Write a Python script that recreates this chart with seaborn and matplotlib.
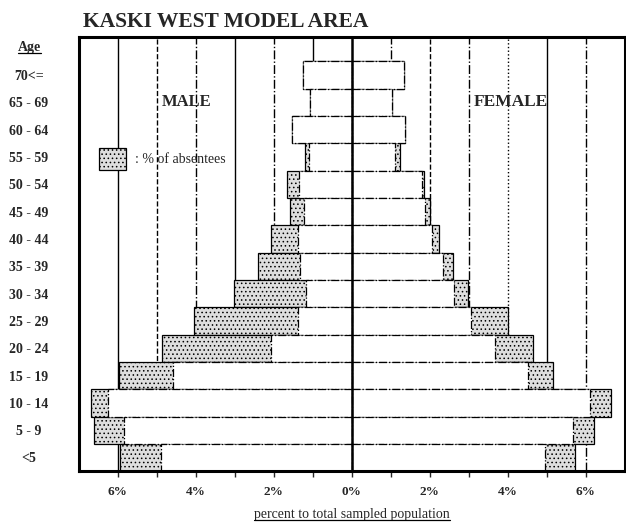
import numpy as np
import pandas as pd
import matplotlib
matplotlib.use("Agg")
import matplotlib.pyplot as plt
import matplotlib.patches as mpatches
from matplotlib.lines import Line2D
import seaborn as sns

# --- дані (% від усієї вибірки) ---
ages = ["70<=", "65 - 69", "60 - 64", "55 - 59", "50 - 54", "45 - 49", "40 - 44",
        "35 - 39", "30 - 34", "25 - 29", "20 - 24", "15 - 19", "10 - 14", "5 - 9", "<5"]
male_present = [1.26, 1.08, 1.54, 1.10, 1.36, 1.23, 1.38, 1.33, 1.18, 1.38, 2.08, 4.59, 6.26, 5.85, 4.90]
male_total = [1.26, 1.08, 1.54, 1.21, 1.67, 1.59, 2.08, 2.41, 3.03, 4.05, 4.87, 5.97, 6.69, 6.62, 5.95]
female_present = [1.33, 1.03, 1.36, 1.10, 1.80, 1.87, 2.05, 2.33, 2.62, 3.05, 3.67, 4.51, 6.10, 5.67, 4.95]
female_total = [1.33, 1.03, 1.36, 1.23, 1.85, 2.00, 2.23, 2.59, 2.97, 4.00, 4.64, 5.15, 6.64, 6.20, 5.72]
xtick_vals = list(range(-6, 7))
xtick_labels = [f"{abs(v)}%" if v % 2 == 0 else "" for v in xtick_vals]

df = pd.DataFrame({
    "Age": ages,
    "male_present": -np.array(male_present),
    "male_total": -np.array(male_total),
    "female_present": female_present,
    "female_total": female_total,
})

sns.set_style("white")
plt.rcParams["font.family"] = ["Liberation Serif", "DejaVu Serif"]
plt.rcParams["hatch.color"] = "#666666"
plt.rcParams["hatch.linewidth"] = 0.6

fig = plt.figure(figsize=(6.26, 5.27), dpi=100)
ax = fig.add_axes([0.126, 0.106, 0.872, 0.824])

# сітка: вертикальні лінії кожен відсоток (різні стилі як у скані)
grid_styles = {-6: "-", -5: "--", -4: "-.", -3: "-", -2: "-.", -1: "-",
               1: "-.", 2: "--", 3: "-.", 4: ":", 5: "-", 6: "-."}
for v, ls in grid_styles.items():
    ax.axvline(v, color="black", linestyle=ls, linewidth=1.0, zorder=0)

stipple = "#dedede"
bar_kw = dict(orient="y", order=ages, width=1.0, saturation=1, edgecolor="black",
              linewidth=0.9, ax=ax, zorder=2)
# відсутні (штрихована частина) — повна довжина, потім присутні білим зверху
sns.barplot(data=df, x="male_total", y="Age", color=stipple, hatch="....", **bar_kw)
sns.barplot(data=df, x="female_total", y="Age", color=stipple, hatch="....", **bar_kw)
sns.barplot(data=df, x="male_present", y="Age", color="white", linestyle="-.", **bar_kw)
sns.barplot(data=df, x="female_present", y="Age", color="white", linestyle="-.", **bar_kw)

ax.axvline(0, color="black", linewidth=1.8, zorder=5)

ax.set_xlim(-7, 7)
ax.set_ylim(14.5, -1.4)
ax.set_xticks(xtick_vals)
ax.set_xticklabels(xtick_labels, fontsize=9.5, fontweight="bold")
ax.tick_params(axis="x", direction="out", length=4, width=1, pad=7, bottom=True)
ax.tick_params(axis="y", length=0, pad=36, labelsize=10)
for lbl in ax.get_yticklabels():
    lbl.set_horizontalalignment("center")
    lbl.set_fontweight("bold")
ax.set_ylabel("")
xlab = ax.set_xlabel("percent to total sampled population", fontsize=10, labelpad=7)
for sp in ax.spines.values():
    sp.set_visible(True)
    sp.set_linewidth(2.2)
    sp.set_color("black")

# заголовок колонки віку
age_txt = ax.text(-0.09, -1, "Age", transform=ax.get_yaxis_transform(),
                  ha="center", va="center", fontsize=10, fontweight="bold")

ax.text(-4.25, 1, "MALE", ha="center", va="center", fontsize=12, fontweight="bold")
ax.text(4.08, 1, "FEMALE", ha="center", va="center", fontsize=12.5, fontweight="bold")

absent_patch = mpatches.Patch(facecolor=stipple, edgecolor="black", hatch="....", linewidth=0.9)
ax.legend(handles=[absent_patch], labels=[": % of absentees"], loc="center left",
          bbox_to_anchor=(0.036, 0.719), frameon=False, fontsize=10, borderpad=0,
          borderaxespad=0, handlelength=2.0, handleheight=2.0, handletextpad=0.6)

fig.text(0.133, 0.958, "KASKI WEST MODEL AREA", fontsize=15.5, fontweight="bold",
         ha="left", va="center")


def underline(txt):
    # підкреслення тексту лінією під його рамкою
    fig.canvas.draw()
    bb = txt.get_window_extent().transformed(fig.transFigure.inverted())
    fig.add_artist(Line2D([bb.x0, bb.x1], [bb.y0 + 0.003, bb.y0 + 0.003],
                          color="black", linewidth=0.9, transform=fig.transFigure))


underline(xlab)
underline(age_txt)

plt.savefig("out.png", dpi=100)
plt.close()
